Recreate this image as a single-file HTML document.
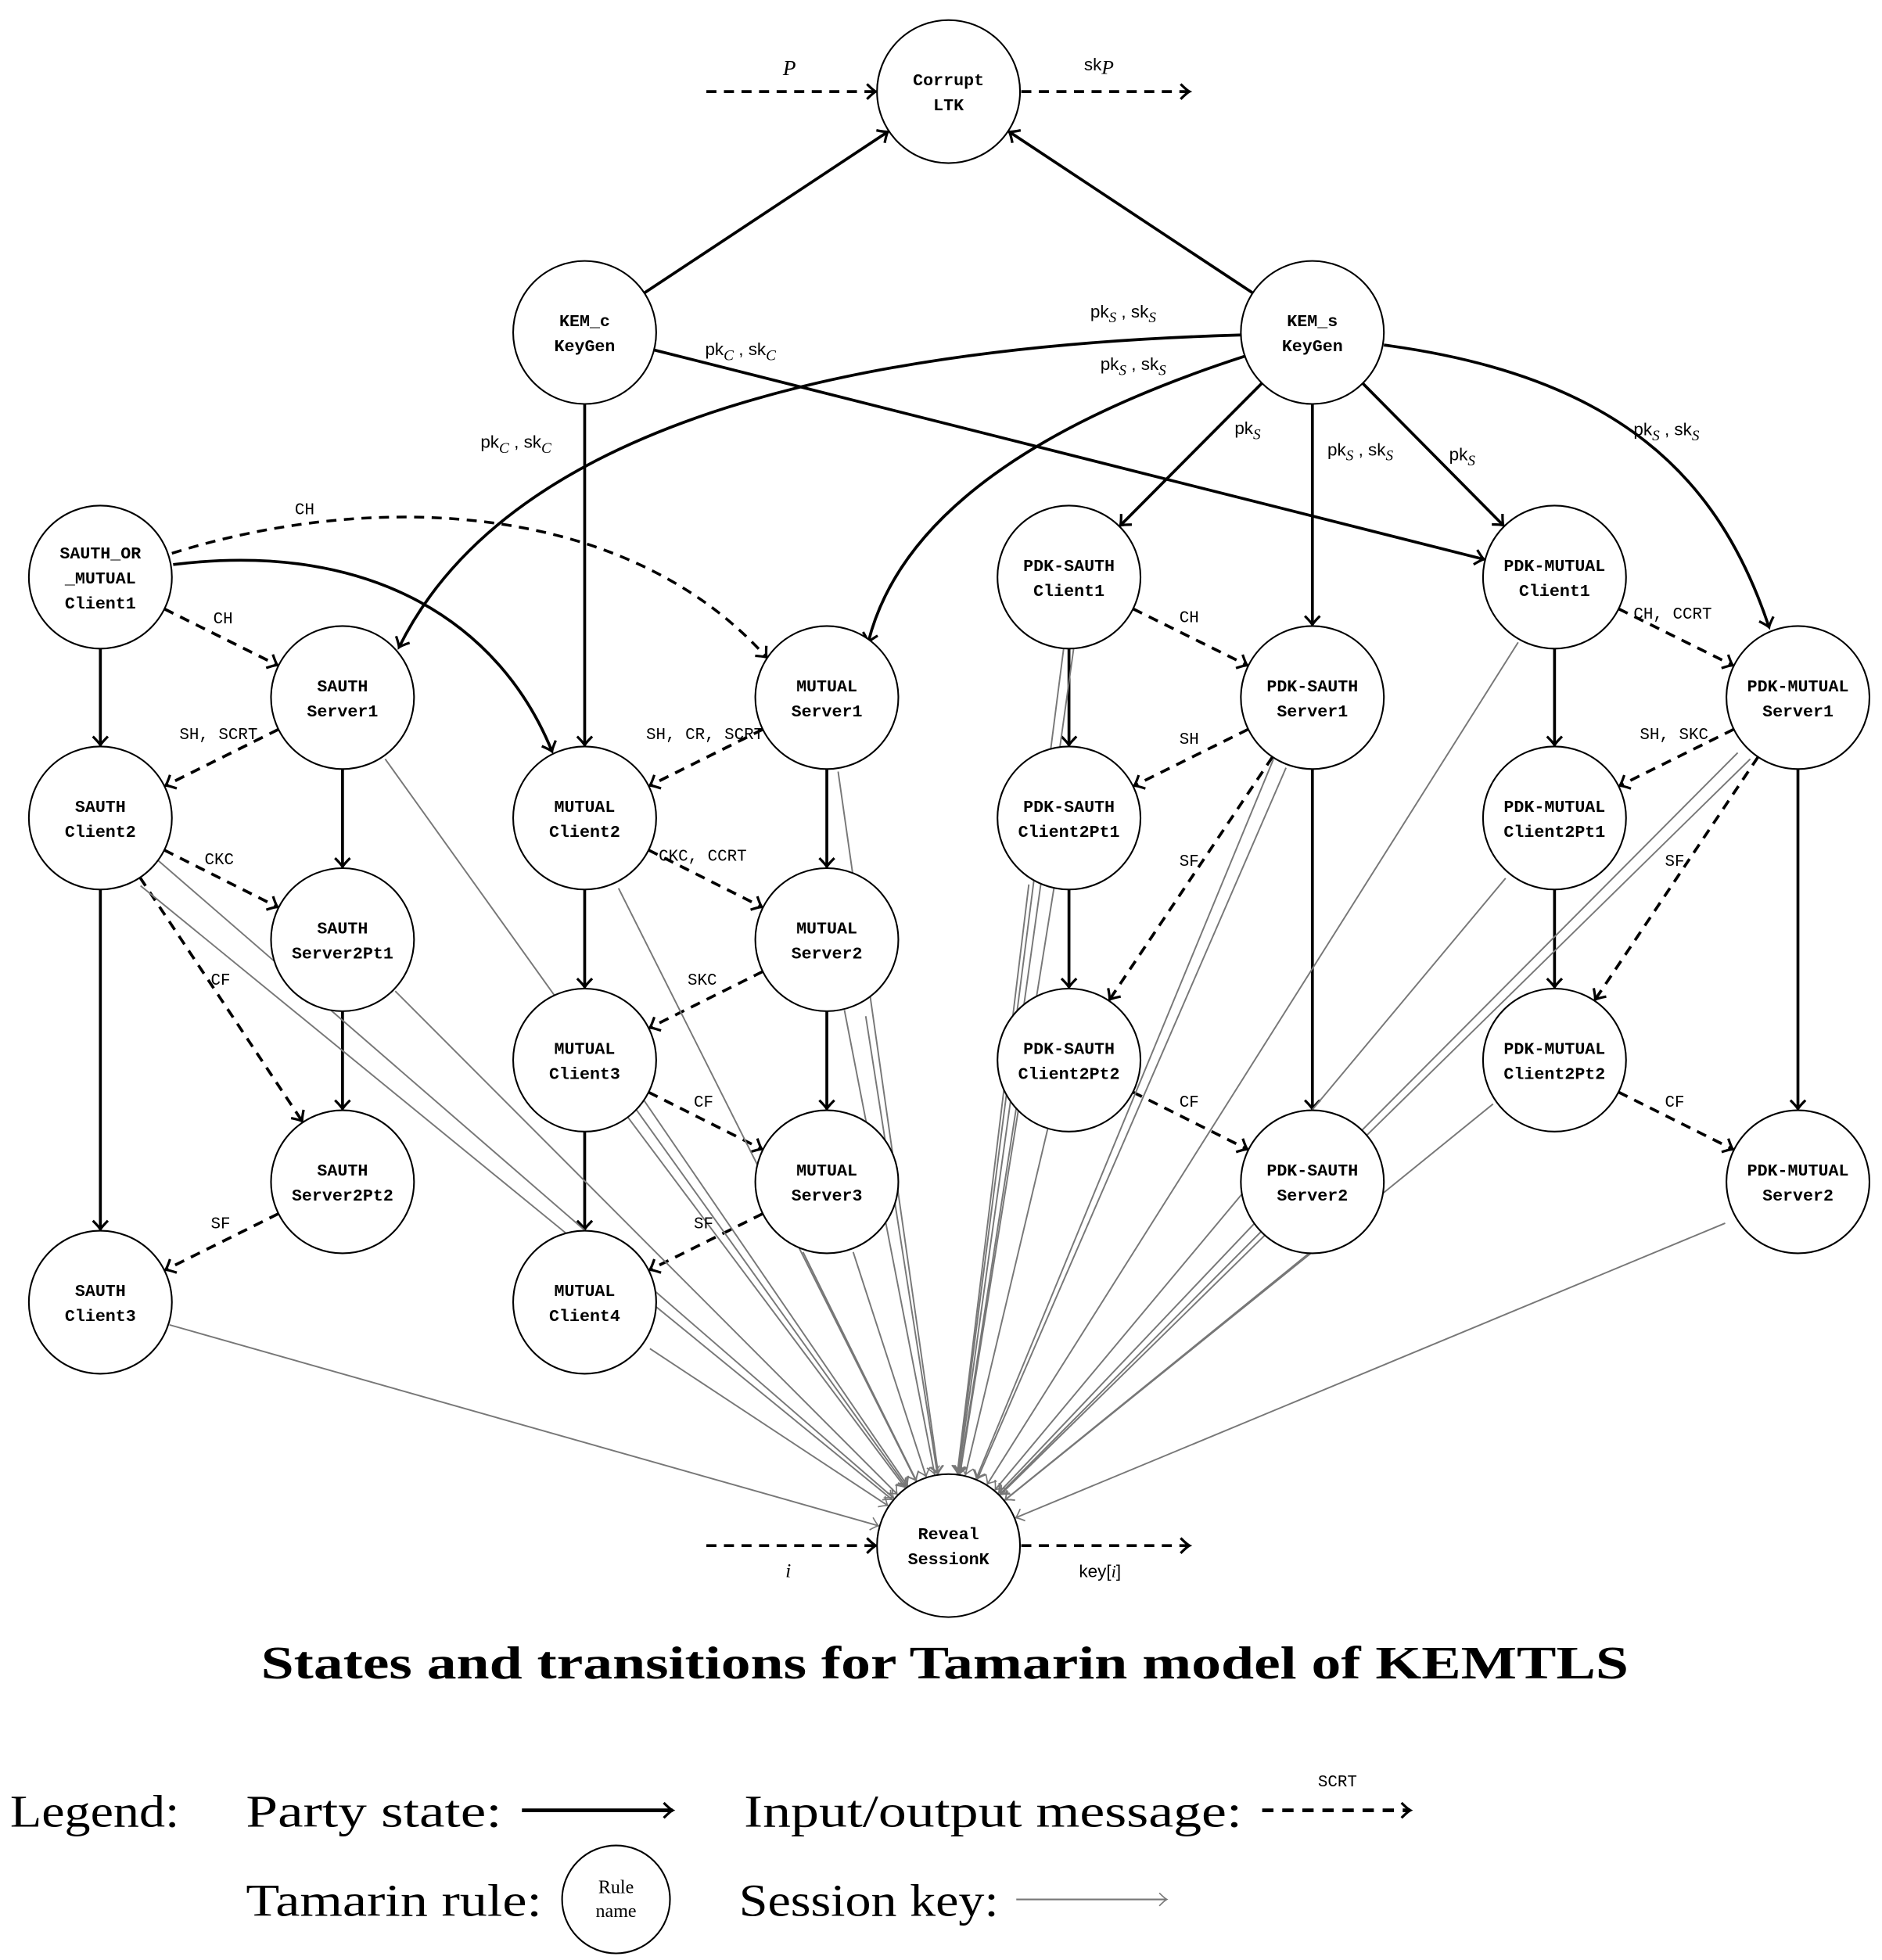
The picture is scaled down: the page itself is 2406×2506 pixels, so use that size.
<!DOCTYPE html>
<html><head><meta charset="utf-8"><style>
html,body{margin:0;padding:0;background:#fff;}
svg{display:block;}
.n{font-family:"Liberation Mono",monospace;font-weight:bold;font-size:13.5px;text-anchor:middle;}
.l{font-family:"Liberation Mono",monospace;font-size:13px;}
.m{font-family:"Liberation Sans",sans-serif;font-size:14px;}
.i{font-family:"Liberation Serif",serif;font-style:italic;}
.big{font-family:"Liberation Serif",serif;font-size:36px;}
</style></head><body>
<svg id="s" width="2406" height="2506" viewBox="0 0 1500 1562.3" preserveAspectRatio="none" xmlns="http://www.w3.org/2000/svg">
<defs>
<marker id="a" markerWidth="14" markerHeight="14" refX="0" refY="0" viewBox="-8 -7 10 14" orient="auto" markerUnits="userSpaceOnUse">
<path d="M-7,-6 Q-2,-1 0,0 Q-2,1 -7,6" fill="none" stroke="#000" stroke-width="2"/></marker>
<marker id="g" markerWidth="12" markerHeight="12" refX="0" refY="0" viewBox="-8 -7 10 14" orient="auto" markerUnits="userSpaceOnUse">
<path d="M-7,-6 Q-2,-1 0,0 Q-2,1 -7,6" fill="none" stroke="#777" stroke-width="1.2"/></marker>
</defs>
<g id="edges"></g>
<g fill="none" stroke="#000" stroke-width="2.3" marker-end="url(#a)">
<path d="M990,267 C700,275 410,330 318,516"/>
<path d="M992,284 C850,330 720,400 692,512"/>
<path d="M1103,275 C1290,300 1370,380 1410,500"/>
<path d="M138,450 C300,430 400,500 440,599"/>
<path d="M137,441 C300,390 500,400 611,524" stroke-dasharray="8,6" stroke-width="2.2"/>
</g>
<g id="nodes" fill="#fff" stroke="#000" stroke-width="1.3"></g>
<g class="n">
<text x="756" y="68">Corrupt</text><text x="756" y="88">LTK</text>
<text x="466" y="260">KEM_c</text><text x="466" y="280">KeyGen</text>
<text x="1046" y="260">KEM_s</text><text x="1046" y="280">KeyGen</text>
<text x="80" y="445">SAUTH_OR</text><text x="80" y="465">_MUTUAL</text><text x="80" y="485">Client1</text>
<text x="273" y="551">SAUTH</text><text x="273" y="571">Server1</text>
<text x="80" y="647">SAUTH</text><text x="80" y="667">Client2</text>
<text x="273" y="744">SAUTH</text><text x="273" y="764">Server2Pt1</text>
<text x="273" y="937">SAUTH</text><text x="273" y="957">Server2Pt2</text>
<text x="80" y="1033">SAUTH</text><text x="80" y="1053">Client3</text>
<text x="659" y="551">MUTUAL</text><text x="659" y="571">Server1</text>
<text x="466" y="647">MUTUAL</text><text x="466" y="667">Client2</text>
<text x="659" y="744">MUTUAL</text><text x="659" y="764">Server2</text>
<text x="466" y="840">MUTUAL</text><text x="466" y="860">Client3</text>
<text x="659" y="937">MUTUAL</text><text x="659" y="957">Server3</text>
<text x="466" y="1033">MUTUAL</text><text x="466" y="1053">Client4</text>
<text x="852" y="455">PDK-SAUTH</text><text x="852" y="475">Client1</text>
<text x="1046" y="551">PDK-SAUTH</text><text x="1046" y="571">Server1</text>
<text x="852" y="647">PDK-SAUTH</text><text x="852" y="667">Client2Pt1</text>
<text x="852" y="840">PDK-SAUTH</text><text x="852" y="860">Client2Pt2</text>
<text x="1046" y="937">PDK-SAUTH</text><text x="1046" y="957">Server2</text>
<text x="1239" y="455">PDK-MUTUAL</text><text x="1239" y="475">Client1</text>
<text x="1433" y="551">PDK-MUTUAL</text><text x="1433" y="571">Server1</text>
<text x="1239" y="647">PDK-MUTUAL</text><text x="1239" y="667">Client2Pt1</text>
<text x="1239" y="840">PDK-MUTUAL</text><text x="1239" y="860">Client2Pt2</text>
<text x="1433" y="937">PDK-MUTUAL</text><text x="1433" y="957">Server2</text>
<text x="756" y="1227">Reveal</text><text x="756" y="1247">SessionK</text>
</g>
<g class="l">
<text x="235" y="410">CH</text>
<text x="170" y="497">CH</text>
<text x="143" y="589">SH, SCRT</text>
<text x="163" y="689">CKC</text>
<text x="168" y="785">CF</text>
<text x="168" y="979">SF</text>
<text x="515" y="589">SH, CR, SCRT</text>
<text x="525" y="686">CKC, CCRT</text>
<text x="548" y="785">SKC</text>
<text x="553" y="882">CF</text>
<text x="553" y="979">SF</text>
<text x="940" y="496">CH</text>
<text x="940" y="593">SH</text>
<text x="940" y="690">SF</text>
<text x="940" y="882">CF</text>
<text x="1302" y="493">CH, CCRT</text>
<text x="1307" y="589">SH, SKC</text>
<text x="1327" y="690">SF</text>
<text x="1327" y="882">CF</text>
</g>
<g class="m">
<text x="624" y="60" class="i" font-size="17">P</text>
<text x="864" y="56">sk<tspan class="i" font-size="16" dy="3">P</tspan></text>
<text x="626" y="1257" class="i" font-size="16">i</text>
<text x="860" y="1257">key[<tspan class="i">i</tspan>]</text>
<text x="869" y="253">pk<tspan class="i" font-size="12" dy="4">S</tspan><tspan dy="-4"> , sk</tspan><tspan class="i" font-size="12" dy="4">S</tspan></text>
<text x="877" y="295">pk<tspan class="i" font-size="12" dy="4">S</tspan><tspan dy="-4"> , sk</tspan><tspan class="i" font-size="12" dy="4">S</tspan></text>
<text x="562" y="283">pk<tspan class="i" font-size="12" dy="4">C</tspan><tspan dy="-4"> , sk</tspan><tspan class="i" font-size="12" dy="4">C</tspan></text>
<text x="383" y="357">pk<tspan class="i" font-size="12" dy="4">C</tspan><tspan dy="-4"> , sk</tspan><tspan class="i" font-size="12" dy="4">C</tspan></text>
<text x="984" y="346">pk<tspan class="i" font-size="12" dy="4">S</tspan></text>
<text x="1058" y="363">pk<tspan class="i" font-size="12" dy="4">S</tspan><tspan dy="-4"> , sk</tspan><tspan class="i" font-size="12" dy="4">S</tspan></text>
<text x="1155" y="367">pk<tspan class="i" font-size="12" dy="4">S</tspan></text>
<text x="1302" y="347">pk<tspan class="i" font-size="12" dy="4">S</tspan><tspan dy="-4"> , sk</tspan><tspan class="i" font-size="12" dy="4">S</tspan></text>
</g>
<text x="208" y="1338" textLength="1090" lengthAdjust="spacingAndGlyphs" font-family="Liberation Serif,serif" font-weight="bold" font-size="37">States and transitions for Tamarin model of KEMTLS</text>
<text x="8" y="1456" class="big" textLength="135" lengthAdjust="spacingAndGlyphs">Legend:</text>
<text x="196" y="1456" class="big" textLength="204" lengthAdjust="spacingAndGlyphs">Party state:</text>
<line x1="416" y1="1443" x2="536" y2="1443" stroke="#000" stroke-width="3" marker-end="url(#a)"/>
<text x="593" y="1456" class="big" textLength="397" lengthAdjust="spacingAndGlyphs">Input/output message:</text>
<line x1="1006" y1="1443" x2="1124" y2="1443" stroke="#000" stroke-width="3" stroke-dasharray="9,7" marker-end="url(#a)"/>
<text x="1066" y="1424" class="l" text-anchor="middle" font-size="15">SCRT</text>
<text x="196" y="1527" class="big" textLength="236" lengthAdjust="spacingAndGlyphs">Tamarin rule:</text>
<circle cx="491" cy="1514" r="43" fill="#fff" stroke="#000" stroke-width="1.3"/>
<text x="491" y="1509" text-anchor="middle" font-family="Liberation Serif,serif" font-size="15">Rule</text>
<text x="491" y="1528" text-anchor="middle" font-family="Liberation Serif,serif" font-size="15">name</text>
<text x="589" y="1527" class="big" textLength="207" lengthAdjust="spacingAndGlyphs">Session key:</text>
<line x1="810" y1="1514" x2="930" y2="1514" stroke="#777" stroke-width="1.3" marker-end="url(#g)"/>
</svg>
<script>
var R=57;
var N={CL:[756,73],KC:[466,265],KS:[1046,265],SOM:[80,460],SS1:[273,556],SC2:[80,652],SP1:[273,749],SP2:[273,942],SC3:[80,1038],
MS1:[659,556],MC2:[466,652],MS2:[659,749],MC3:[466,845],MS3:[659,942],MC4:[466,1038],
PC1:[852,460],PS1:[1046,556],PC2:[852,652],PC3:[852,845],PS2:[1046,942],
QC1:[1239,460],QS1:[1433,556],QC2:[1239,652],QC3:[1239,845],QS2:[1433,942],RV:[756,1232]};
var ns="http://www.w3.org/2000/svg",E=document.getElementById("edges"),ND=document.getElementById("nodes");
for(var k in N){var c=document.createElementNS(ns,"circle");c.setAttribute("cx",N[k][0]);c.setAttribute("cy",N[k][1]);c.setAttribute("r",R);ND.appendChild(c);}
function ln(x1,y1,x2,y2,st){var l=document.createElementNS(ns,"line");l.setAttribute("x1",x1);l.setAttribute("y1",y1);l.setAttribute("x2",x2);l.setAttribute("y2",y2);
for(var k in st)l.setAttribute(k,st[k]);E.appendChild(l);}
function e(a,b,t){var A=N[a],B=N[b],dx=B[0]-A[0],dy=B[1]-A[1],d=Math.hypot(dx,dy),ux=dx/d,uy=dy/d;
var st={stroke:"#000","stroke-width":2.3,"marker-end":"url(#a)"};if(t)st["stroke-dasharray"]="8,6";
ln(A[0]+ux*R,A[1]+uy*R,B[0]-ux*(R+1),B[1]-uy*(R+1),st);}
[["KC","CL"],["KS","CL"],["KC","MC2"],["KC","QC1"],["KS","PC1"],["KS","PS1"],["KS","QC1"],["SOM","SC2"],["SC2","SC3"],["SS1","SP1"],["SP1","SP2"],
["MS1","MS2"],["MS2","MS3"],["MC2","MC3"],["MC3","MC4"],["PC1","PC2"],["PC2","PC3"],["PS1","PS2"],["QC1","QC2"],["QC2","QC3"],["QS1","QS2"]].forEach(function(p){e(p[0],p[1],0)});
[["SOM","SS1"],["SS1","SC2"],["SC2","SP1"],["SC2","SP2"],["SP2","SC3"],["MS1","MC2"],["MC2","MS2"],["MS2","MC3"],["MC3","MS3"],["MS3","MC4"],
["PC1","PS1"],["PS1","PC2"],["PS1","PC3"],["PC3","PS2"],["QC1","QS1"],["QS1","QC2"],["QS1","QC3"],["QC3","QS2"]].forEach(function(p){e(p[0],p[1],1)});
var ds={stroke:"#000","stroke-width":2.3,"stroke-dasharray":"8,6","marker-end":"url(#a)"};
ln(563,73,698,73,ds);ln(814,73,948,73,ds);ln(563,1232,698,1232,ds);ln(814,1232,948,1232,ds);
var G=[[135,1056],[125,685],[112,706],[307,605],[315,790],[493,708],[505,865],[500,890],[518,1075],[668,615],[673,805],[690,810],[640,998],[680,998],
[848,515],[856,515],[820,705],[840,708],[812,870],[835,900],[1015,605],[1025,612],[1000,975],[1046,998],[1210,512],[1200,700],[1190,880],[1385,600],[1395,605],[1375,975]];
G.forEach(function(p){var B=N.RV,dx=B[0]-p[0],dy=B[1]-p[1],d=Math.hypot(dx,dy);
ln(p[0],p[1],B[0]-dx/d*(R+1),B[1]-dy/d*(R+1),{stroke:"#777","stroke-width":1.2,"marker-end":"url(#g)"});});
</script>
</body></html>
